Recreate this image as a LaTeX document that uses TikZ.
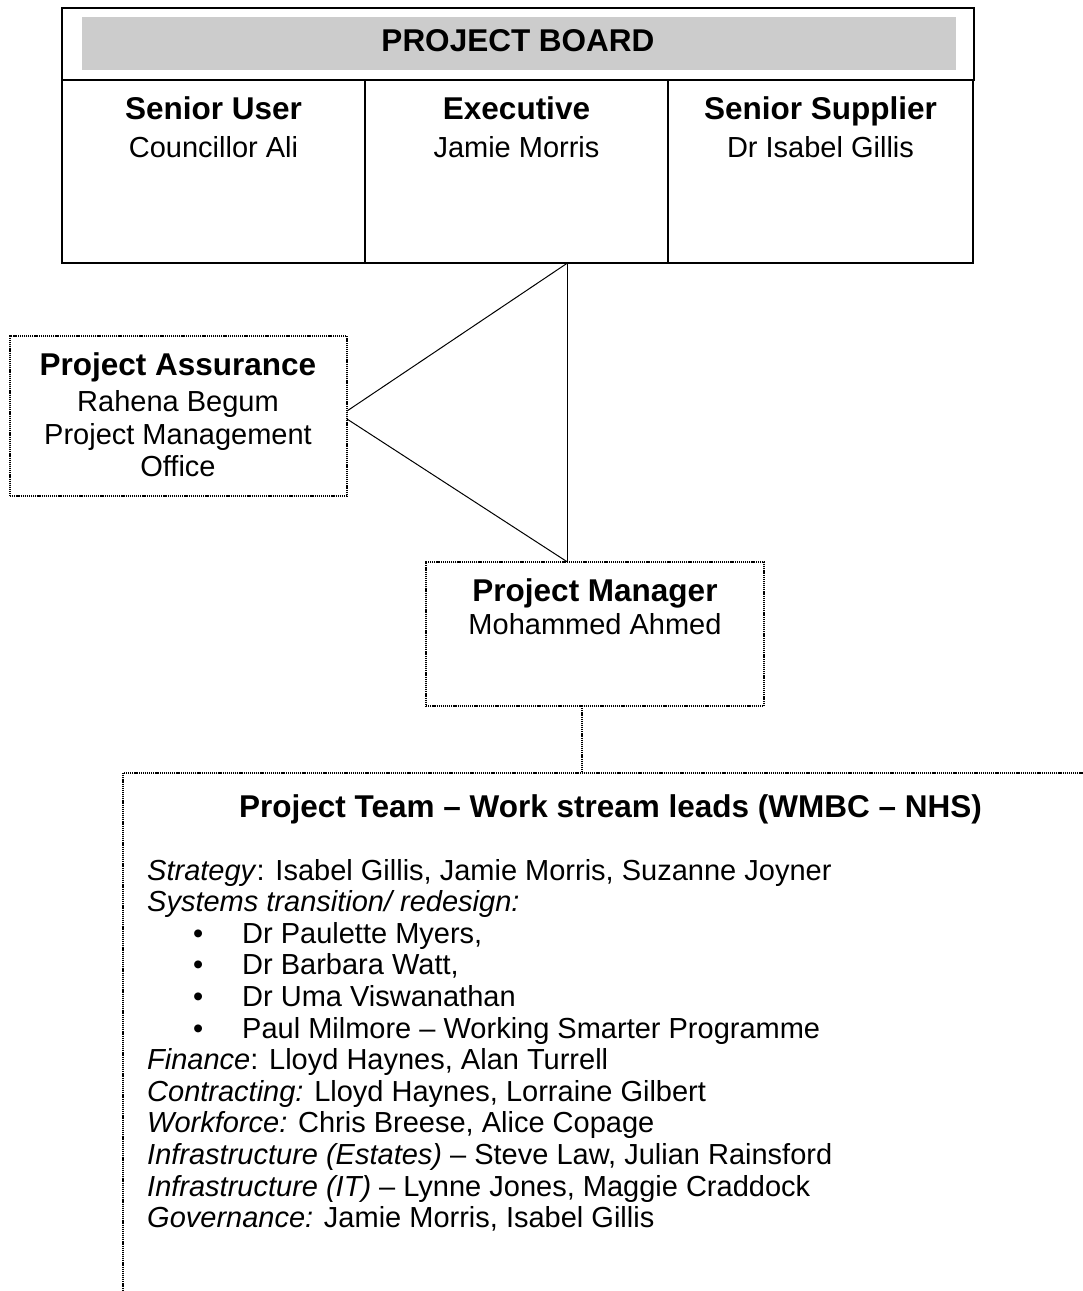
\documentclass[tikz,border=0pt]{standalone}
\usepackage{fontspec}
\setmainfont{Liberation Sans}
\newcommand\bodyf{\fontsize{29}{31.6}\selectfont}
\newcommand\headf{\fontsize{31.5}{34}\selectfont\bfseries}
\begin{document}
\begin{tikzpicture}[x=1pt,y=-1pt,
  solidbox/.style={draw, line width=1.5pt, inner sep=0pt, outer sep=0pt, anchor=north west},
  dotbox/.style={draw, line width=1.2pt, dash pattern=on 1.2pt off 0.9pt, inner sep=0pt, outer sep=0pt, anchor=north west},
  headtext/.style={font=\headf, anchor=base, inner sep=0pt},
  nametext/.style={font=\bodyf, anchor=base, inner sep=0pt},
  linetext/.style={font=\bodyf, anchor=base west, inner sep=0pt},
  solidline/.style={draw, line width=1pt},
  dotline/.style={draw, line width=1.2pt, dash pattern=on 1.2pt off 0.9pt}]
\useasboundingbox (0,0) rectangle (1083,1291);
\clip (0,0) rectangle (1083,1291);
% project board
\node[solidbox, minimum width=912pt, minimum height=72pt] (board) at (62,8) {};
\node[anchor=north west, fill=black!20, inner sep=0pt, minimum width=874pt, minimum height=53pt] (band) at (82,17) {};
\node[headtext] (boardt) at (518,51) {PROJECT BOARD};
\node[solidbox, minimum width=303pt, minimum height=183pt] (su) at (62,80) {};
\node[solidbox, minimum width=303pt, minimum height=183pt] (ex) at (365,80) {};
\node[solidbox, minimum width=305pt, minimum height=183pt] (ss) at (668,80) {};
\node[headtext] (sut) at (213.5,119) {Senior User};
\node[nametext] (sun) at (213.5,157) {Councillor Ali};
\node[headtext] (ext) at (516.5,119) {Executive};
\node[nametext] (exn) at (516.5,157) {Jamie Morris};
\node[headtext] (sst) at (820.5,119) {Senior Supplier};
\node[nametext] (ssn) at (820.5,157) {Dr Isabel Gillis};
% project assurance
\node[dotbox, minimum width=337pt, minimum height=160pt] (pa) at (10,336) {};
\node[headtext] (pat) at (178,375) {Project Assurance};
\node[nametext] (pan1) at (178,411) {Rahena Begum};
\node[nametext] (pan2) at (178,444) {Project Management};
\node[nametext] (pan3) at (178,476) {Office};
% project manager
\node[dotbox, minimum width=338pt, minimum height=144pt] (pm) at (426,562) {};
\node[headtext] (pmt) at (595,601) {Project Manager};
\node[nametext] (pmn) at (595,634) {Mohammed Ahmed};
% connectors
\coordinate (apex) at ([xshift=51pt]ex.south);
\draw[solidline] (apex) -- ([yshift=5pt]pa.east);
\draw[solidline] ([yshift=-3pt]pa.east) -- (apex |- pm.north);
\draw[solidline] (apex) -- (apex |- pm.north);
% project team
\node[dotbox, minimum width=1100pt, minimum height=700pt] (team) at (123,773) {};
\coordinate (pmfoot) at ([xshift=-13pt]pm.south);
\draw[dotline] (pmfoot) -- (pmfoot |- team.north);
\node[headtext] (teamt) at (610.5,817) {Project Team -- Work stream leads (WMBC -- NHS)};
\node[linetext] (l1) at (147,880) {\textit{Strategy}: Isabel Gillis, Jamie Morris, Suzanne Joyner};
\node[linetext] (l2) at (147,911.6) {\textit{Systems transition/ redesign:}};
\node[linetext] (l3) at (147,943.2) {\hspace*{46pt}\makebox[49pt][l]{•}Dr Paulette Myers,};
\node[linetext] (l4) at (147,974.8) {\hspace*{46pt}\makebox[49pt][l]{•}Dr Barbara Watt,};
\node[linetext] (l5) at (147,1006.4) {\hspace*{46pt}\makebox[49pt][l]{•}Dr Uma Viswanathan};
\node[linetext] (l6) at (147,1038) {\hspace*{46pt}\makebox[49pt][l]{•}Paul Milmore -- Working Smarter Programme};
\node[linetext] (l7) at (147,1069.6) {\textit{Finance}: Lloyd Haynes, Alan Turrell};
\node[linetext] (l8) at (147,1101.2) {\textit{Contracting:} Lloyd Haynes, Lorraine Gilbert};
\node[linetext] (l9) at (147,1132.8) {\textit{Workforce:} Chris Breese, Alice Copage};
\node[linetext] (l10) at (147,1164.4) {\textit{Infrastructure (Estates)} -- Steve Law, Julian Rainsford};
\node[linetext] (l11) at (147,1196) {\textit{Infrastructure (IT)} -- Lynne Jones, Maggie Craddock};
\node[linetext] (l12) at (147,1227.6) {\textit{Governance:} Jamie Morris, Isabel Gillis};
\end{tikzpicture}
\end{document}
